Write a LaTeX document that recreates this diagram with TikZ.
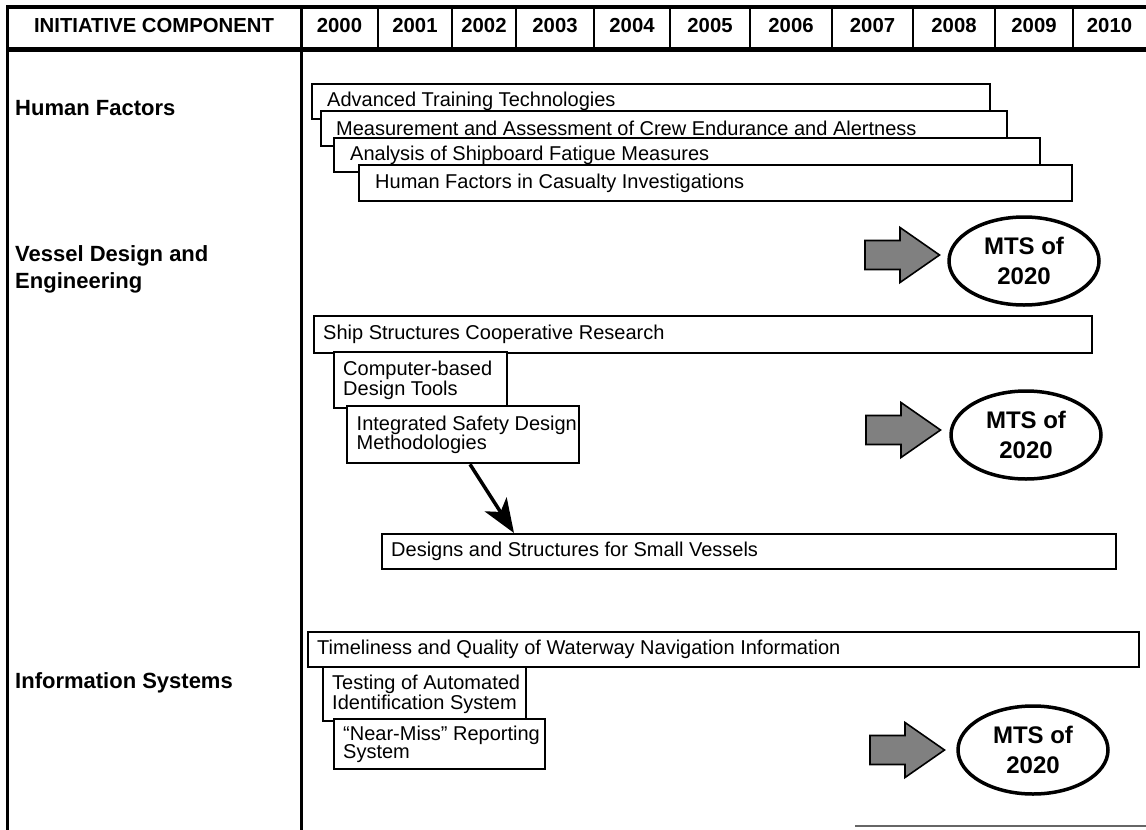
\documentclass[tikz,border=0pt]{standalone}
\usepackage{fontspec}
\setmainfont{Liberation Sans}
\usetikzlibrary{arrows.meta,shapes.geometric}
\begin{document}
\begin{tikzpicture}[x=1pt,y=-1pt,
  hdr/.style={font=\fontsize{20.3}{22}\selectfont\bfseries, inner sep=0pt},
  lbl/.style={font=\fontsize{22}{27}\selectfont\bfseries, anchor=west, align=left, inner sep=0pt},
  taskbox/.style={draw, line width=2.3pt, fill=white, anchor=north west, inner sep=0pt},
  tasktext/.style={anchor=west, align=left, inner sep=0pt, font=\fontsize{20}{18.5}\selectfont},
  goal/.style={draw, ellipse, line width=3.5pt, minimum width=150pt, minimum height=88pt,
    inner sep=0pt, align=center, font=\fontsize{24}{30}\selectfont\bfseries},
  fatarrow/.style={draw, line width=1.6pt, fill=black!50, line join=miter},
  link/.style={line width=3.5pt, -{Stealth[length=34pt,width=26pt,inset=9pt]}},
]
\useasboundingbox (0,0) rectangle (1146,830);

% ---- header row ----
\draw[line width=3.5pt] (6,7) -- (1146,7);
\draw[line width=5pt] (6,49) -- (1146,49);
\draw[line width=3.5pt] (7.5,5.5) -- (7.5,830);
\draw[line width=3pt] (301,7) -- (301,830);
\foreach \x in {378,452,516,594,670,750,832,913,995,1073}
  \draw[line width=2.2pt] (\x,7) -- (\x,49);
\node[hdr] (hcomp) at (154,26) {INITIATIVE COMPONENT};
\foreach \yr/\xa/\xb in {2000/301/378, 2001/378/452, 2002/452/516, 2003/516/594,
    2004/594/670, 2005/670/750, 2006/750/832, 2007/832/913, 2008/913/995,
    2009/995/1073, 2010/1073/1146}
  \node[hdr] (y\yr) at ({(\xa+\xb)/2},26) {\yr};

% faint rule closing the body at the lower right
\draw[black!60, line width=1.2pt] (855,826) -- (1146,826);

% ---- component labels ----
\node[lbl] (lhf) at (15,108) {Human Factors};
\node[lbl] (lvd) at (15,269.5) {Vessel Design and\\Engineering};
\node[lbl] (lis) at (15,683) {Information Systems};

% ---- Human Factors ----
\node[taskbox, minimum width=678pt, minimum height=35pt] (hf1) at (311,83) {};
\node[tasktext] (hf1t) at ([xshift=16pt]hf1.west) {Advanced Training Technologies};
\node[taskbox, minimum width=686pt, minimum height=35pt] (hf2) at (320,110) {};
\node[tasktext] (hf2t) at ([xshift=16pt]hf2.west) {Measurement and Assessment of Crew Endurance and Alertness};
\node[taskbox, minimum width=706pt, minimum height=34pt] (hf3) at (333,137) {};
\node[tasktext] (hf3t) at ([xshift=17pt]hf3.west) {Analysis of Shipboard Fatigue Measures};
\node[taskbox, minimum width=713pt, minimum height=36pt] (hf4) at (358,164) {};
\node[tasktext] (hf4t) at ([xshift=17pt]hf4.west) {Human Factors in Casualty Investigations};

% ---- Vessel Design and Engineering ----
\node[taskbox, minimum width=778pt, minimum height=37pt] (vd1) at (313,315) {};
\node[tasktext] (vd1t) at ([xshift=10pt]vd1.west) {Ship Structures Cooperative Research};
\node[taskbox, minimum width=173pt, minimum height=56pt] (vd2) at (333,351) {};
\node[tasktext] (vd2t) at ([xshift=10pt]vd2.west) {Computer-based\\Design Tools};
\node[taskbox, minimum width=232pt, minimum height=57pt] (vd3) at (346,405) {};
\node[tasktext] (vd3t) at ([xshift=10.5pt]vd3.west) {Integrated Safety Design\\Methodologies};
\node[taskbox, minimum width=734pt, minimum height=35pt] (vd4) at (381,533) {};
\node[tasktext] (vd4t) at ([xshift=10pt]vd4.west) {Designs and Structures for Small Vessels};
\draw[link] ([xshift=124pt]vd3.south west) -- ([xshift=133pt]vd4.north west);

% ---- Information Systems ----
\node[taskbox, minimum width=831pt, minimum height=35.5pt] (is1) at (307,630.5) {};
\node[tasktext] (is1t) at ([xshift=10pt]is1.west) {Timeliness and Quality of Waterway Navigation Information};
\node[taskbox, minimum width=203pt, minimum height=54pt] (is2) at (322,666) {};
\node[tasktext] (is2t) at ([xshift=10pt]is2.west) {Testing of Automated\\Identification System};
\node[taskbox, minimum width=211pt, minimum height=50pt] (is3) at (333,718) {};
\node[tasktext] (is3t) at ([xshift=10pt]is3.west) {``Near-Miss'' Reporting\\System};

% ---- arrows toward the 2020 goal ----
\foreach \n/\ax/\ay in {1/865/255, 2/866/430, 3/870/750}
  \draw[fatarrow] (\ax,\ay) coordinate (ar\n) ++(0,-14.5) -- ++(35,0) -- ++(0,-13)
    -- ++(39.5,27.5) -- ++(-39.5,27.5) -- ++(0,-13) -- ++(-35,0) -- cycle;
\node[goal] (g1) at (1024,261) {MTS of\\2020};
\node[goal] (g2) at (1026,435) {MTS of\\2020};
\node[goal] (g3) at (1033,750) {MTS of\\2020};
\end{tikzpicture}
\end{document}
